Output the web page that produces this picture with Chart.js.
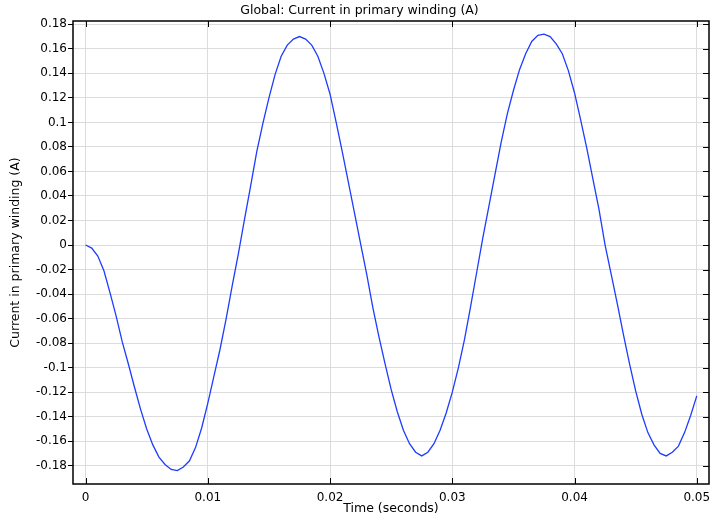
<!DOCTYPE html>
<html>
<head>
<meta charset="utf-8">
<script src="https://cdn.jsdelivr.net/npm/chart.js@4.4.0/dist/chart.umd.min.js"></script>
<style>
  html, body { margin:0; padding:0; background:#fff; }
  #wrap { width:711px; height:522px; }
</style>
</head>
<body>
<div id="wrap"><canvas id="chart" width="711" height="522"></canvas></div>
<script>
// ---------------- data ----------------
const timeSec = [
  0, 0.0005, 0.001, 0.0015, 0.002, 0.0025, 0.003, 0.0035, 0.004, 0.0045,
  0.005, 0.0055, 0.006, 0.0065, 0.007, 0.0075, 0.008, 0.0085, 0.009, 0.0095,
  0.01, 0.0105, 0.011, 0.0115, 0.012, 0.0125, 0.013, 0.0135, 0.014, 0.0145,
  0.015, 0.0155, 0.016, 0.0165, 0.017, 0.0175, 0.018, 0.0185, 0.019, 0.0195,
  0.02, 0.0205, 0.021, 0.0215, 0.022, 0.0225, 0.023, 0.0235, 0.024, 0.0245,
  0.025, 0.0255, 0.026, 0.0265, 0.027, 0.0275, 0.028, 0.0285, 0.029, 0.0295,
  0.03, 0.0305, 0.031, 0.0315, 0.032, 0.0325, 0.033, 0.0335, 0.034, 0.0345,
  0.035, 0.0355, 0.036, 0.0365, 0.037, 0.0375, 0.038, 0.0385, 0.039, 0.0395,
  0.04, 0.0405, 0.041, 0.0415, 0.042, 0.0425, 0.043, 0.0435, 0.044, 0.0445,
  0.045, 0.0455, 0.046, 0.0465, 0.047, 0.0475, 0.048, 0.0485, 0.049, 0.0495,
  0.05
];
const currentA = [
  0, -0.0025, -0.009, -0.021, -0.039, -0.058, -0.079, -0.097, -0.116, -0.134,
  -0.150, -0.163, -0.173, -0.179, -0.183, -0.184, -0.181, -0.176, -0.165, -0.149,
  -0.129, -0.107, -0.085, -0.060, -0.033, -0.007, 0.021, 0.048, 0.076, 0.099,
  0.120, 0.139, 0.154, 0.163, 0.168, 0.170, 0.168, 0.163, 0.154, 0.140,
  0.123, 0.100, 0.076, 0.051, 0.026, 0.001, -0.024, -0.051, -0.075, -0.097,
  -0.118, -0.136, -0.151, -0.162, -0.169, -0.172, -0.169, -0.162, -0.151, -0.137,
  -0.120, -0.100, -0.077, -0.050, -0.022, 0.006, 0.032, 0.058, 0.084, 0.107,
  0.126, 0.143, 0.156, 0.166, 0.171, 0.172, 0.170, 0.164, 0.156, 0.142,
  0.124, 0.102, 0.079, 0.054, 0.029, 0.000, -0.024, -0.048, -0.073, -0.097,
  -0.119, -0.138, -0.153, -0.163, -0.170, -0.172, -0.169, -0.164, -0.153, -0.139,
  -0.123
];
const xTicks = [0, 0.01, 0.02, 0.03, 0.04, 0.05];
const yTicks = [-0.18, -0.16, -0.14, -0.12, -0.1, -0.08, -0.06, -0.04, -0.02, 0,
  0.02, 0.04, 0.06, 0.08, 0.1, 0.12, 0.14, 0.16, 0.18];

const TITLE = 'Global: Current in primary winding (A)';
const FONT = 'DejaVu Sans';

function fmt(v) {
  return String(Number(v.toFixed(4)));
}

// frame, inner tick marks and title (comsol look)
const framePlugin = {
  id: 'frame',
  afterDraw(chart) {
    const { ctx, chartArea: a, scales } = chart;
    ctx.save();
    ctx.strokeStyle = '#000';
    ctx.lineWidth = 1;
    ctx.beginPath();
    xTicks.forEach(v => {
      const x = Math.round(scales.x.getPixelForValue(v)) + 0.5;
      ctx.moveTo(x, a.bottom); ctx.lineTo(x, a.bottom - 6);
      ctx.moveTo(x, a.top); ctx.lineTo(x, a.top + 6);
    });
    yTicks.forEach(v => {
      const y = Math.round(scales.y.getPixelForValue(v)) + 0.5;
      ctx.moveTo(a.right, y); ctx.lineTo(a.right - 6, y);
    });
    ctx.stroke();
    ctx.lineWidth = 1.5;
    ctx.strokeRect(a.left, a.top, a.right - a.left, a.bottom - a.top);
    ctx.fillStyle = '#000';
    ctx.font = '12.5px "' + FONT + '"';
    ctx.textAlign = 'center';
    ctx.textBaseline = 'middle';
    ctx.fillText(TITLE, chart.width / 2 + 4, 11);
    ctx.restore();
  }
};

const points = timeSec.map((t, i) => ({ x: t, y: currentA[i] }));

new Chart(document.getElementById('chart'), {
  type: 'line',
  data: {
    datasets: [{
      data: points,
      borderColor: 'rgb(30,60,255)',
      borderWidth: 1.3,
      pointRadius: 0,
      tension: 0,
      fill: false
    }]
  },
  options: {
    responsive: false,
    animation: false,
    devicePixelRatio: 1,
    layout: { padding: { top: 21, right: 2, left: 0, bottom: 0 } },
    plugins: { legend: { display: false }, tooltip: { enabled: false }, title: { display: false } },
    scales: {
      x: {
        type: 'linear',
        min: -0.00103,
        max: 0.0510,
        afterBuildTicks: s => { s.ticks = xTicks.map(v => ({ value: v })); },
        afterFit: s => { s.height = 38; s.paddingLeft = 0; s.paddingRight = 0; },
        ticks: {
          callback: v => fmt(v),
          font: { family: FONT, size: 12 },
          color: '#000',
          padding: 7,
          maxRotation: 0,
          autoSkip: false
        },
        grid: { color: '#dcdcdc', lineWidth: 1, drawTicks: false },
        border: { display: false },
        title: {
          display: true,
          text: 'Time (seconds)',
          font: { family: FONT, size: 12.5 },
          color: '#000',
          padding: { top: 0, bottom: 6 }
        }
      },
      y: {
        min: -0.1949,
        max: 0.1827,
        afterBuildTicks: s => { s.ticks = yTicks.map(v => ({ value: v })); },
        afterFit: s => { s.width = 73; },
        ticks: {
          callback: v => fmt(v),
          font: { family: FONT, size: 12 },
          color: '#000',
          padding: 1,
          autoSkip: false
        },
        grid: { color: '#dcdcdc', lineWidth: 1, drawTicks: true, tickLength: 5, tickColor: '#000' },
        border: { display: false },
        title: {
          display: true,
          text: 'Current in primary winding (A)',
          font: { family: FONT, size: 12.5 },
          color: '#000',
          padding: { top: 8, bottom: 0 }
        }
      }
    }
  },
  plugins: [framePlugin]
});
</script>
</body>
</html>
